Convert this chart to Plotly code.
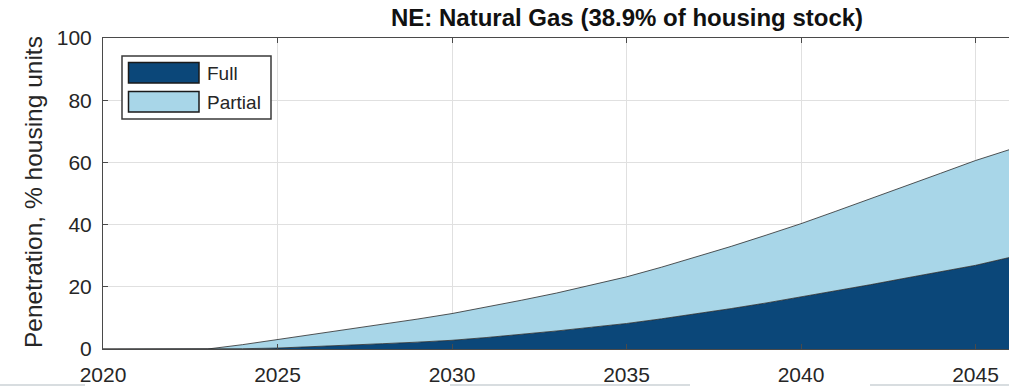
import plotly.graph_objects as go

# Annual penetration of heat pumps among natural-gas-heated homes (NE region)
years = list(range(2020, 2047))
full = [0, 0, 0, 0, 0.1, 0.3, 0.7, 1.2, 1.7, 2.2, 2.8, 3.7, 4.7, 5.8, 7.0, 8.2,
        9.7, 11.3, 13.0, 14.8, 16.7, 18.7, 20.7, 22.8, 24.9, 26.9, 29.5]
partial = [0, 0, 0, 0, 1.3, 2.7, 3.9, 5.0, 6.2, 7.4, 8.6, 9.8, 11.0, 12.2, 13.5, 15.0,
           16.6, 18.3, 20.0, 21.8, 23.6, 25.6, 27.6, 29.6, 31.6, 33.7, 34.7]

series_names = ["Full", "Partial"]
series_colors = ["#0B4779", "#A8D6E8"]
x_ticks = [2020, 2025, 2030, 2035, 2040, 2045]
y_ticks = [0, 20, 40, 60, 80, 100]
title_text = "NE: Natural Gas (38.9% of housing stock)"
y_title = "Penetration, % housing units"

FONT = "Liberation Sans, Arial, Helvetica, sans-serif"
TXT = "#262626"
EDGE = "#2a2a2a"

W, H = 1009, 388
ML, MT, MB, MR = 103, 38, 39, 0
PW, PH = W - ML - MR, H - MT - MB


def px(x):
    return (x - ML) / PW


def py(y):
    return (H - MB - y) / PH


fig = go.Figure()
for name, vals, col in zip(series_names, [full, partial], series_colors):
    fig.add_trace(go.Scatter(
        x=years, y=vals, name=name, mode="lines", stackgroup="one",
        fillcolor=col, line=dict(color=EDGE, width=0.8), showlegend=False,
        hoverinfo="x+y+name",
    ))

axis_common = dict(
    showline=True, linecolor="#4a4a4a", linewidth=1,
    ticks="inside", ticklen=5, tickcolor="#4a4a4a", tickwidth=1,
    showgrid=True, gridcolor="#e0e0e0", gridwidth=1, zeroline=False,
    tickfont=dict(family=FONT, size=21, color=TXT),
)
fig.update_xaxes(range=[2020, 2020 + PW / 34.9], tickvals=x_ticks, mirror="ticks",
                 ticklabelstandoff=7, **axis_common)
fig.update_yaxes(range=[0, 100], tickvals=y_ticks, mirror=False,
                 ticklabelstandoff=6, **axis_common)

shapes = []
annotations = []

# Legend box drawn as shapes so the colour swatches are wide bars
shapes.append(dict(type="rect", xref="paper", yref="paper",
                   x0=px(122), x1=px(271), y0=py(119), y1=py(56),
                   line=dict(color="#3a3a3a", width=1.5), fillcolor="white", layer="above"))
for i, (name, col) in enumerate(zip(series_names, series_colors)):
    top = 62.5 + i * 29
    shapes.append(dict(type="rect", xref="paper", yref="paper",
                       x0=px(128.5), x1=px(199), y0=py(top + 20.5), y1=py(top),
                       line=dict(color="#1a1a1a", width=1.5), fillcolor=col, layer="above"))
    annotations.append(dict(text=name, xref="paper", yref="paper",
                            x=px(205), y=py(top + 10.5), xanchor="left", yanchor="middle",
                            showarrow=False, font=dict(family=FONT, size=19, color=TXT)))

# Faint strip along the bottom edge
for a, b in [(0, 85), (450, 690), (870, 1009)]:
    shapes.append(dict(type="line", xref="paper", yref="paper",
                       x0=px(a), x1=px(b), y0=py(385), y1=py(385),
                       line=dict(color="#d8dde0", width=2)))

annotations.append(dict(text="<b>" + title_text + "</b>", xref="paper", yref="paper",
                        x=px(627), y=py(17), xanchor="center", yanchor="middle",
                        showarrow=False, font=dict(family=FONT, size=24, color="#111111")))
annotations.append(dict(text=y_title, xref="paper", yref="paper", textangle=-90,
                        x=px(33), y=py(192), xanchor="center", yanchor="middle",
                        showarrow=False, font=dict(family=FONT, size=24.5, color=TXT)))

fig.update_layout(
    width=W, height=H,
    margin=dict(l=ML, r=MR, t=MT, b=MB),
    paper_bgcolor="white", plot_bgcolor="white",
    shapes=shapes, annotations=annotations,
    showlegend=False,
)

fig.write_html("out.html")
